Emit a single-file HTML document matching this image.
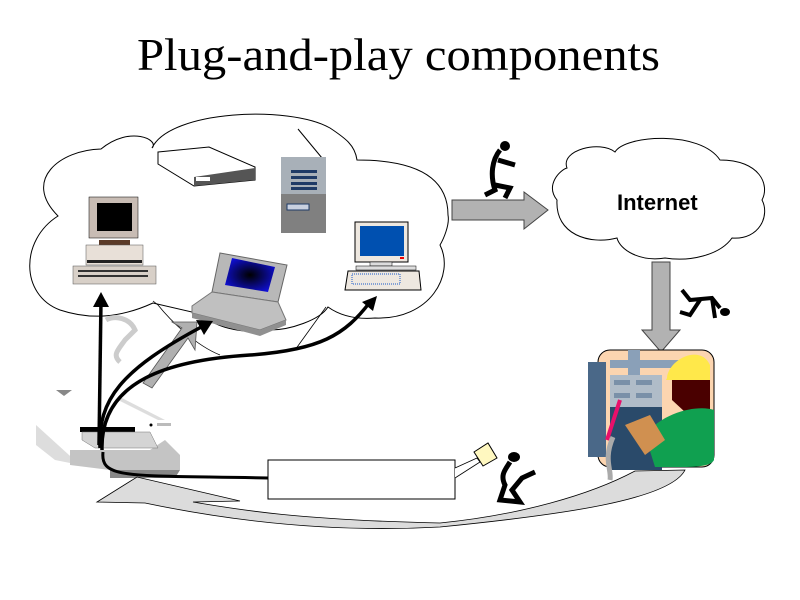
<!DOCTYPE html>
<html><head><meta charset="utf-8"><style>
html,body{margin:0;padding:0;background:#fff;width:800px;height:600px;overflow:hidden}
</style></head><body>
<svg width="800" height="600" viewBox="0 0 800 600" xmlns="http://www.w3.org/2000/svg">
<defs>
<radialGradient id="lg" cx="0.5" cy="0.5" r="0.6"><stop offset="0" stop-color="#000"/><stop offset="1" stop-color="#1010e0"/></radialGradient>
</defs>
<rect width="800" height="600" fill="#fff"/>
<text x="137" y="70" font-family="Liberation Serif, serif" font-size="46" textLength="523" lengthAdjust="spacingAndGlyphs">Plug-and-play components</text>

<!-- Big cloud -->
<path d="M58,216 C22,180 60,150 101,149 C130,125 160,140 152,148 C170,110 290,105 330,128 C345,138 355,145 357,160 C420,160 448,180 448,215 C450,225 443,240 440,245 C455,275 430,320 375,318 C350,320 335,312 328,307 C320,320 290,330 270,330 C240,335 210,325 205,315 L153,303 C120,318 90,320 60,310 C20,295 20,240 58,216 Z" fill="#fff" stroke="#000" stroke-width="1"/>
<path d="M153,301 L158,305 C170,320 195,345 220,355" fill="none" stroke="#000" stroke-width="0.8"/>
<path d="M326,307 L295,350" fill="none" stroke="#000" stroke-width="0.8"/>

<!-- Internet cloud -->
<path d="M557,200 C545,185 560,170 567,168 C560,150 600,140 615,152 C625,135 700,130 720,160 C760,160 770,185 762,200 C770,215 760,240 732,238 C720,255 690,262 665,258 C640,262 620,250 617,238 C590,245 555,235 557,200 Z" fill="#fff" stroke="#000" stroke-width="1"/>
<text x="617" y="210" font-family="Liberation Sans, sans-serif" font-size="22" font-weight="bold">Internet</text>

<!-- Right gray arrow -->
<path d="M452,200 L524,200 L524,192 L548,210 L524,229 L524,220 L452,220 Z" fill="#b2b2b2" stroke="#444" stroke-width="1"/>
<!-- Down gray arrow -->
<path d="M652,262 L670,262 L670,330 L680,330 L661,352 L642,330 L652,330 Z" fill="#b2b2b2" stroke="#444" stroke-width="1"/>

<!-- Modem -->
<path d="M158,152 L209,147 L255,167 L255,180 L194,186 L158,164 Z" fill="#fff" stroke="#000"/>
<path d="M194,177 L255,168 L255,180 L194,186 Z" fill="#555"/>
<rect x="196" y="177" width="14" height="4" fill="#fff"/>

<!-- Tower -->
<line x1="298" y1="129" x2="322" y2="158" stroke="#000"/>
<rect x="281" y="157" width="45" height="37" fill="#a8b0b8"/>
<rect x="281" y="194" width="45" height="39" fill="#808080"/>
<rect x="291" y="170" width="26" height="3" fill="#1e3a66"/><rect x="291" y="176" width="26" height="3" fill="#1e3a66"/><rect x="291" y="182" width="26" height="3" fill="#1e3a66"/><rect x="291" y="187" width="26" height="3" fill="#1e3a66"/>
<rect x="287" y="204" width="22" height="6" fill="#c8d0e0" stroke="#1e3a66"/>

<!-- PC1 -->
<rect x="89" y="197" width="49" height="41" fill="#c8bcb4" stroke="#000" stroke-width="0.5"/>
<rect x="97" y="203" width="35" height="28" fill="#000"/>
<rect x="99" y="240" width="31" height="5" fill="#5a3a28"/>
<rect x="86" y="245" width="57" height="20" fill="#e8e0d8" stroke="#555" stroke-width="0.5"/>
<rect x="87" y="260" width="55" height="3" fill="#222"/>
<rect x="73" y="266" width="83" height="18" fill="#d8d0c8" stroke="#555" stroke-width="0.5"/>
<rect x="78" y="270" width="70" height="2" fill="#333"/><rect x="78" y="275" width="70" height="2" fill="#333"/>

<!-- Laptop -->
<path d="M220,253 L287,265 L278,302 L212,292 Z" fill="#b8b8b8" stroke="#666"/>
<path d="M232,258 L275,267 L268,292 L225,285 Z" fill="url(#lg)"/>
<path d="M212,292 L278,302 L286,320 L260,330 L192,313 L192,306 Z" fill="#c0c0c0" stroke="#777"/>
<path d="M192,313 L260,330 L286,320 L286,325 L260,336 L192,318 Z" fill="#909090"/>

<!-- PC2 -->
<rect x="355" y="222" width="53" height="40" fill="#eee8e0" stroke="#000"/>
<rect x="360" y="226" width="44" height="30" fill="#0050b0"/>
<rect x="400" y="257" width="4" height="2" fill="#e00"/>
<rect x="370" y="262" width="22" height="4" fill="#ddd" stroke="#000" stroke-width="0.5"/>
<rect x="356" y="266" width="60" height="4" fill="#ddd" stroke="#000" stroke-width="0.5"/>
<path d="M348,271 L419,271 L421,290 L345,290 Z" fill="#eee8e0" stroke="#000"/>
<rect x="352" y="274" width="48" height="10" fill="none" stroke="#1a5ac8" stroke-width="1" stroke-dasharray="1,1"/>

<!-- ghost figure -->
<path d="M106,320 C115,315 130,318 135,330 L125,340 C118,350 112,355 120,362" fill="none" stroke="#ccc" stroke-width="5"/>

<!-- gray arrow behind -->
<path d="M143,383 L182,328 L172,322 L197,322 L195,350 L188,338 L152,388 Z" fill="#b0b0b0" stroke="#555" stroke-width="0.8"/>

<!-- Scanner -->
<path d="M56,390 L72,390 L64,396 Z" fill="#888"/>
<path d="M120,397 L165,420 L158,420 L118,400 Z" fill="#ddd"/>
<path d="M36,425 L80,465 L55,460 L36,445 Z" fill="#ddd"/>
<path d="M70,450 L150,450 L165,440 L180,455 L180,470 L110,470 L70,465 Z" fill="#c4c4c4"/>
<path d="M110,470 L180,470 L175,478 L110,478 Z" fill="#888"/>
<rect x="80" y="427" width="55" height="5" fill="#000"/>
<path d="M82,432 L150,432 L158,448 L95,448 L82,440 Z" fill="#d4d4d4" stroke="#777" stroke-width="0.5"/>
<circle cx="151" cy="425" r="1.5" fill="#000"/><rect x="157" y="423" width="14" height="3" fill="#bbb"/>

<!-- black curved arrows -->
<g fill="none" stroke="#000" stroke-width="3.5">
<path d="M99,445 L101,300"/>
<path d="M100,448 C98,400 120,370 205,325"/>
<path d="M102,450 C100,380 170,360 250,355 C320,350 345,335 370,302"/>
<path d="M103,452 C100,480 130,475 268,478" stroke-width="3"/>
</g>
<path d="M101,292 L93,307 L109,307 Z" fill="#000"/>
<path d="M213,321 L196,320 L204,335 Z" fill="#000"/>
<path d="M377,296 L362,302 L373,311 Z" fill="#000"/>

<!-- Bottom light gray curved arrow -->
<path d="M97,502 L137,477 L240,501 L193,502 C240,510 300,520 440,523 C520,515 590,495 635,471 L685,470 C670,500 560,515 440,527 C350,532 250,525 145,503 Z" fill="#dcdcdc" stroke="#000" stroke-width="0.8"/>

<!-- Callout box -->
<rect x="268" y="460" width="187" height="39" fill="#fff" stroke="#000"/>
<path d="M455,468 L477,458 L480,462 L455,478" fill="#fff" stroke="#000" stroke-width="0.8"/>
<!-- mail figure -->
<path d="M474,452 L488,443 L497,458 L483,466 Z" fill="#fff8c0" stroke="#000"/>
<ellipse cx="514" cy="457" rx="6" ry="5"/>
<path d="M510,462 C505,470 500,475 505,485 L500,500 L520,502 L512,490 L522,478 L535,472" fill="none" stroke="#000" stroke-width="5"/>

<!-- Runner figures -->
<ellipse cx="505" cy="146" rx="5" ry="5"/>
<path d="M500,150 C492,160 490,175 495,190 L485,195 M495,185 L510,188 L505,198 M498,160 L515,165" fill="none" stroke="#000" stroke-width="5"/>
<ellipse cx="725" cy="312" rx="5" ry="4"/>
<path d="M682,290 L690,300 L712,298 L720,308 M700,300 L690,315 L680,312 M712,298 L715,318" fill="none" stroke="#000" stroke-width="4"/>

<!-- Technician -->
<rect x="598" y="350" width="116" height="117" rx="12" fill="#fcd5b0" stroke="#000"/>
<rect x="628" y="350" width="12" height="25" fill="#8aa0b8"/>
<rect x="610" y="360" width="95" height="8" fill="#8aa0b8"/>
<rect x="588" y="362" width="18" height="95" fill="#4a6888"/>
<rect x="610" y="375" width="52" height="95" fill="#2a4a6a"/>
<rect x="610" y="375" width="52" height="32" fill="#b0bcc8"/>
<rect x="614" y="380" width="16" height="5" fill="#7a90a8"/><rect x="636" y="380" width="16" height="5" fill="#7a90a8"/>
<rect x="614" y="393" width="16" height="5" fill="#7a90a8"/><rect x="636" y="393" width="16" height="5" fill="#7a90a8"/>
<path d="M620,400 L607,440" stroke="#e8106a" stroke-width="4"/>
<path d="M613,437 C603,460 612,470 610,480" stroke="#aaa" stroke-width="5" fill="none"/>
<path d="M667,378 C668,360 700,343 710,365 L710,380 L666,380 Z" fill="#ffe84a"/>
<path d="M672,380 L710,380 L710,410 L685,412 L672,400 Z" fill="#4a0000"/>
<path d="M645,435 C665,410 700,405 714,410 L714,460 C710,468 690,467 655,467 Z" fill="#10a050"/>
<path d="M625,425 L650,415 L665,440 L645,455 Z" fill="#d09050"/>
</svg>
</body></html>
